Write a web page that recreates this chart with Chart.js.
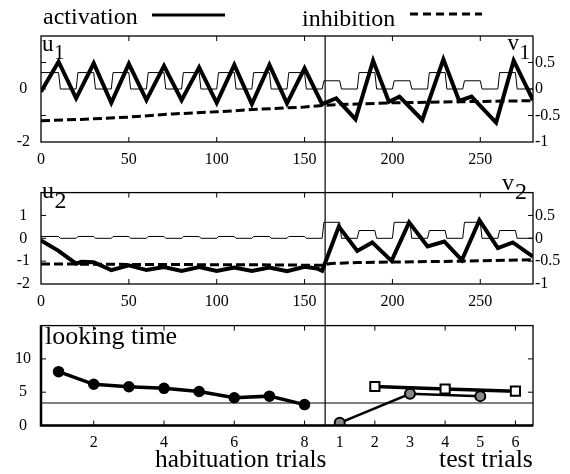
<!DOCTYPE html>
<html><head><meta charset="utf-8">
<script src="https://cdn.jsdelivr.net/npm/chart.js@4.4.1/dist/chart.umd.min.js"></script>
<style>
html,body{margin:0;padding:0;background:#fff;}
#wrap{position:relative;width:570px;height:474px;overflow:hidden;}
canvas{position:absolute;left:0;}
</style></head><body>
<div id="wrap">
<canvas id="c1" width="570" height="172" style="top:0"></canvas>
<canvas id="c2" width="570" height="134" style="top:172px"></canvas>
<canvas id="c3" width="570" height="168" style="top:306px"></canvas>
</div>
<script>
// ---- data: time course (top two panels) ----
const stimT = [0,10,11,20, 21,30,31,40, 41,50,51,60, 61,70,71,80, 81,90,91,100, 101,110,111,120, 121,130,131,140, 141,150,151,160,
               161,170,171,180, 181,190,191,200, 201,210,211,220, 221,230,231,240, 241,250,251,260, 261,270,271,280];
const s1V = [.62,.62,0,0, .62,.62,0,0, .62,.62,0,0, .62,.62,0,0, .62,.62,0,0, .62,.62,0,0, .62,.62,0,0, .62,.62,0,0,
             .31,.31,0,0, .62,.62,0,0, .31,.31,0,0, .62,.62,0,0, .31,.31,0,0, .62,.62,0,0];
const s2V = [.08,.08,0,0, .08,.08,0,0, .08,.08,0,0, .08,.08,0,0, .08,.08,0,0, .08,.08,0,0, .08,.08,0,0, .08,.08,0,0,
             .7,.7,0,0, .34,.34,0,0, .7,.7,0,0, .34,.34,0,0, .7,.7,0,0, .34,.34,0,0];

const u1T = [0,10,20,30,40,50,60,70,80,90,100,110,120,130,140,150,160,168,179,189,198,204,217,229,238,245,259,269,280];
const u1V = [-0.1,1.03,-0.35,0.97,-0.52,0.95,-0.42,0.87,-0.42,0.82,-0.52,0.91,-0.57,0.91,-0.54,0.78,-0.57,
             -0.35,-1.14,1.07,-0.48,-0.29,-1.17,1.12,-0.45,-0.29,-1.27,1.07,-0.42];
const v1T = [0,25,50,75,100,125,150,165,200,240,280];
const v1V = [-0.6,-0.57,-0.53,-0.47,-0.43,-0.38,-0.34,-0.30,-0.26,-0.24,-0.22];

const u2T = [0,10,20,23,30,40,50,60,70,80,90,100,110,120,130,140,150,157,160,
             169.5,180,188.5,199.5,209.5,220,229.5,239.5,249.5,260,268.5,280];
const u2V = [-0.09,-0.55,-1.11,-1.03,-1.05,-1.39,-1.18,-1.39,-1.26,-1.43,-1.26,-1.43,-1.28,-1.43,-1.28,-1.44,-1.25,-1.32,-1.42,
             0.51,-0.55,-0.18,-0.99,0.70,-0.36,-0.14,-0.96,0.79,-0.43,-0.18,-0.80];
const v2T = [0,40,80,120,160,165,180,200,240,280];
const v2V = [-0.56,-0.57,-0.575,-0.58,-0.59,-0.55,-0.53,-0.52,-0.50,-0.47];

const splitT = 161.7;   // end of habituation (vertical divider)

// ---- data: looking time (bottom panel) ----
const habSlot = [1,2,3,4,5,6,7,8];
const habLook = [8.08,6.19,5.82,5.58,5.11,4.17,4.41,3.14];
const famSlot = [9,11,13];
const famLook = [0.4,4.77,4.41];
const novSlot = [10,12,14];
const novLook = [5.86,5.48,5.16];
const criterion = 3.38;

// ---- tick labels ----
const timeTicks = [0,50,100,150,200,250];
const u1Labels = [-2,0];
const u2Labels = [-2,-1,0,1];
const vLabels = [-1,-0.5,0,0.5];
const lookLabels = [0,5,10];
const trialSlots = [2,4,6,8,9,10,11,12,13,14];
const trialText = ["2","4","6","8","1","2","3","4","5","6"];

const SERIF = '"Liberation Serif", "DejaVu Serif", serif';
Chart.defaults.font.family = SERIF;
Chart.defaults.font.size = 16;
Chart.defaults.color = "#000";
Chart.defaults.animation = false;

const pts = (xs, ys) => xs.map((x,i)=>({x, y:ys[i]}));
const noGrid = {display:false, drawTicks:false, tickLength:0};
const setTicks = vals => s => { s.ticks = vals.map(v=>({value:v})); };

const frame = {
  id:"frame",
  afterDatasetsDraw(chart, args, o){
    const {ctx, chartArea:a, scales} = chart;
    ctx.save();
    ctx.strokeStyle = "#000";
    ctx.lineWidth = 1.3;
    ctx.strokeRect(a.left, a.top, a.right-a.left, a.bottom-a.top);
    if (o.heavy) {
      ctx.lineWidth = 2.5;
      ctx.beginPath(); ctx.moveTo(a.left, a.top); ctx.lineTo(a.left, a.bottom); ctx.lineTo(a.right, a.bottom); ctx.stroke();
    }
    const L = 5;
    ctx.lineWidth = 1;
    ctx.beginPath();
    o.xMarks.forEach(v=>{ const p = scales.x.getPixelForValue(v);
      ctx.moveTo(p, a.top); ctx.lineTo(p, a.top+L); ctx.moveTo(p, a.bottom); ctx.lineTo(p, a.bottom-L); });
    o.leftMarks.forEach(v=>{ const p = scales.y.getPixelForValue(v); ctx.moveTo(a.left, p); ctx.lineTo(a.left+L, p); });
    o.rightMarks.forEach(v=>{ const p = scales[o.rightAxis].getPixelForValue(v); ctx.moveTo(a.right, p); ctx.lineTo(a.right-L, p); });
    ctx.stroke();
    const dx = scales.x.getPixelForValue(o.divider);
    ctx.lineWidth = 1.2;
    ctx.beginPath(); ctx.moveTo(dx, o.divFromArea ? a.top : 0); ctx.lineTo(dx, o.divToArea ? a.bottom : chart.height); ctx.stroke();
    (o.lines||[]).forEach(l=>{ ctx.lineWidth = l.w; ctx.setLineDash(l.dash||[]);
      ctx.beginPath(); ctx.moveTo(l.x1, l.y); ctx.lineTo(l.x2, l.y); ctx.stroke(); ctx.setLineDash([]); });
    ctx.fillStyle = "#000"; ctx.textBaseline = "alphabetic"; ctx.textAlign = "left";
    (o.texts||[]).forEach(t=>{ ctx.font = t.size+"px "+SERIF; ctx.fillText(t.s, t.x, t.y); });
    ctx.restore();
  }
};

function timePanel(id, padTop, xH, uT, uV, vT, vV, sV, uLabels, o){
  return new Chart(document.getElementById(id), {
    type:"line",
    data:{datasets:[
      {data:pts(uT,uV), yAxisID:"y", borderColor:"#000", borderWidth:4, pointRadius:0, borderJoinStyle:"miter"},
      {data:pts(vT,vV), yAxisID:"y1", borderColor:"#000", borderWidth:3, borderDash:[9,4], pointRadius:0},
      {data:pts(stimT,sV), yAxisID:"y", borderColor:"#000", borderWidth:1, pointRadius:0}
    ]},
    options:{
      responsive:false, events:[],
      layout:{padding:{top:padTop, left:0, right:0, bottom:0}},
      plugins:{legend:{display:false}, tooltip:{enabled:false},
        frame:Object.assign({xMarks:[50,100,150,200,250], leftMarks:[-1,0,1], rightMarks:[-0.5,0,0.5], rightAxis:"y1", divider:splitT}, o)},
      scales:{
        x:{type:"linear", min:0, max:280, grid:noGrid, border:{display:false},
           ticks:{padding:8, maxRotation:0, autoSkip:false}, afterBuildTicks:setTicks(timeTicks), afterFit:s=>{s.height=xH;}},
        y:{position:"left", min:-2, max:2, grid:noGrid, border:{display:false},
           ticks:{crossAlign:"center", padding:11, callback:v=>String(v)}, afterBuildTicks:setTicks(uLabels), afterFit:s=>{s.width=41;}},
        y1:{position:"right", min:-1, max:1, grid:noGrid, border:{display:false},
           ticks:{padding:2, callback:v=>String(v)}, afterBuildTicks:setTicks(vLabels), afterFit:s=>{s.width=37;}}
      }
    },
    plugins:[frame]
  });
}

timePanel("c1", 36, 30, u1T, u1V, v1T, v1V, s1V, u1Labels, {
  divFromArea:true,
  lines:[{x1:152, x2:225, y:15, w:3}, {x1:410, x2:482, y:14, w:3, dash:[8,5]}],
  texts:[{s:"activation", x:43, y:24, size:24}, {s:"inhibition", x:302, y:26, size:24},
         {s:"u", x:42, y:50.5, size:23}, {s:"1", x:54, y:58.5, size:21},
         {s:"v", x:507.5, y:49.5, size:23}, {s:"1", x:519.5, y:59, size:21}]
});

timePanel("c2", 5, 22, u2T, u2V, v2T, v2V, s2V, u2Labels, {
  texts:[{s:"u", x:42, y:26, size:24}, {s:"2", x:54.5, y:36, size:24},
         {s:"v", x:502, y:18, size:24}, {s:"2", x:515, y:27, size:24}]
});

const slotOfTime = t => (t + 10) / 20;
new Chart(document.getElementById("c3"), {
  type:"line",
  data:{datasets:[
    {data:pts(novSlot,novLook), borderColor:"#000", borderWidth:3.5, pointStyle:"rect", pointRadius:6.5,
     pointBackgroundColor:"#fff", pointBorderColor:"#000", pointBorderWidth:2},
    {data:pts(famSlot,famLook), borderColor:"#000", borderWidth:2.5, pointStyle:"circle", pointRadius:5,
     pointBackgroundColor:"#888", pointBorderColor:"#000", pointBorderWidth:2},
    {data:pts(habSlot,habLook), borderColor:"#000", borderWidth:3.5, pointStyle:"circle", pointRadius:4,
     pointBackgroundColor:"#000", pointBorderColor:"#000"},
    {data:[{x:0.5,y:criterion},{x:14.5,y:criterion}], borderColor:"#000", borderWidth:1, pointRadius:0}
  ]},
  options:{
    responsive:false, events:[],
    layout:{padding:{top:13, left:0, right:37, bottom:0}},
    plugins:{legend:{display:false}, tooltip:{enabled:false},
      frame:{xMarks:[2,4,6,8,10,12,14], leftMarks:[5,10], rightMarks:[5,10], rightAxis:"y",
             divider:slotOfTime(splitT), divToArea:true, heavy:true,
             texts:[{s:"looking time", x:45, y:37.5, size:26},
                    {s:"habituation trials", x:155, y:160.5, size:25.4},
                    {s:"test trials", x:439, y:160.5, size:25.8}]}},
    scales:{
      x:{type:"linear", min:0.5, max:14.5, grid:noGrid, border:{display:false},
         ticks:{padding:8, maxRotation:0, autoSkip:false, callback:v=>trialText[trialSlots.indexOf(v)]},
         afterBuildTicks:setTicks(trialSlots), afterFit:s=>{s.height=48.5;}},
      y:{position:"left", min:0, max:15, grid:noGrid, border:{display:false},
         ticks:{crossAlign:"center", padding:10, callback:v=>String(v)}, afterBuildTicks:setTicks(lookLabels), afterFit:s=>{s.width=41;}}
    }
  },
  plugins:[frame]
});
</script>
</body></html>
